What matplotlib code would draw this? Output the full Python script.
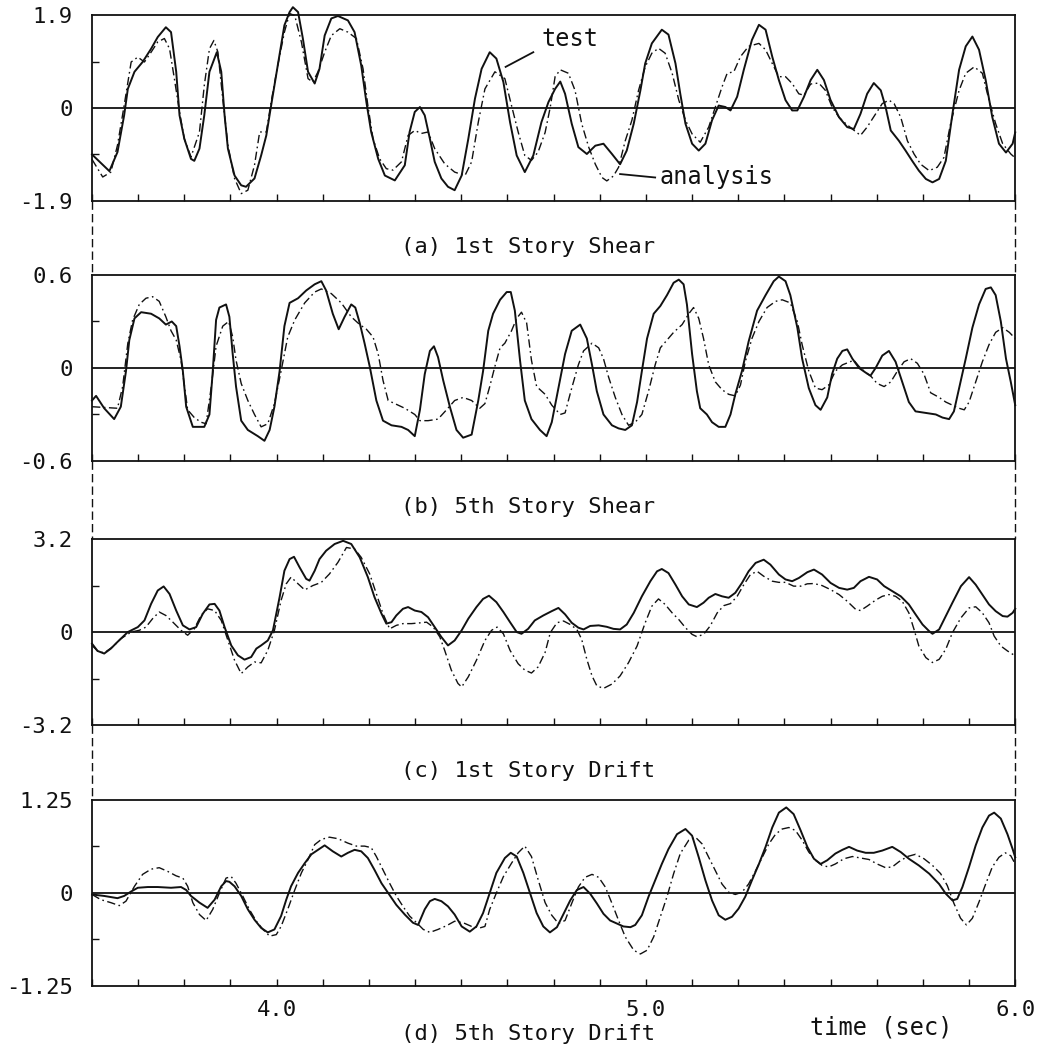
import matplotlib
matplotlib.use("Agg")
import matplotlib.pyplot as plt
from matplotlib.lines import Line2D
from matplotlib.ticker import FixedLocator, MultipleLocator

plt.rcParams["font.family"] = "DejaVu Sans Mono"

# ── Data (time in sec) ────────────────────────────────────────────────────────
A_TEST = [
    (3.500, -0.95), (3.547, -1.29), (3.569, -0.90), (3.587, -0.15), (3.597, 0.39), (3.615, 0.74),
    (3.637, 0.94), (3.660, 1.21), (3.678, 1.45), (3.700, 1.65), (3.714, 1.55), (3.728, 0.74),
    (3.737, -0.15), (3.750, -0.63), (3.768, -1.04), (3.777, -1.08), (3.791, -0.83), (3.804, -0.15),
    (3.818, 0.74), (3.838, 1.14), (3.850, 0.74), (3.859, -0.15), (3.868, -0.83), (3.886, -1.38),
    (3.904, -1.58), (3.917, -1.61), (3.940, -1.44), (3.958, -0.97), (3.972, -0.56), (3.985, 0.05),
    (4.003, 0.87), (4.021, 1.69), (4.035, 1.96), (4.044, 2.06), (4.058, 1.96), (4.071, 1.42),
    (4.085, 0.74), (4.103, 0.50), (4.116, 0.80), (4.130, 1.48), (4.148, 1.83), (4.166, 1.88),
    (4.193, 1.79), (4.211, 1.55), (4.229, 0.87), (4.243, 0.12), (4.256, -0.49), (4.275, -1.04),
    (4.293, -1.38), (4.320, -1.48), (4.347, -1.17), (4.360, -0.49), (4.374, -0.08), (4.388, 0.02),
    (4.401, -0.15), (4.415, -0.63), (4.428, -1.10), (4.446, -1.44), (4.464, -1.61), (4.482, -1.68),
    (4.501, -1.38), (4.519, -0.63), (4.537, 0.19), (4.555, 0.80), (4.577, 1.14), (4.595, 1.01),
    (4.614, 0.53), (4.632, -0.29), (4.650, -0.97), (4.672, -1.31), (4.695, -0.97), (4.717, -0.29),
    (4.736, 0.12), (4.754, 0.39), (4.768, 0.54), (4.781, 0.29), (4.799, -0.32), (4.817, -0.80),
    (4.840, -0.94), (4.863, -0.77), (4.885, -0.73), (4.908, -0.94), (4.930, -1.15), (4.948, -0.87),
    (4.967, -0.32), (4.985, 0.36), (4.998, 0.91), (5.016, 1.32), (5.043, 1.60), (5.061, 1.50),
    (5.080, 0.91), (5.093, 0.29), (5.107, -0.32), (5.125, -0.73), (5.143, -0.87), (5.161, -0.73),
    (5.179, -0.25), (5.197, 0.05), (5.215, 0.02), (5.229, -0.05), (5.247, 0.23), (5.265, 0.78),
    (5.287, 1.39), (5.306, 1.70), (5.324, 1.60), (5.342, 1.05), (5.360, 0.57), (5.378, 0.16),
    (5.396, -0.05), (5.410, -0.05), (5.428, 0.23), (5.446, 0.57), (5.464, 0.78), (5.482, 0.57),
    (5.500, 0.16), (5.523, -0.19), (5.545, -0.39), (5.563, -0.43), (5.581, -0.12), (5.599, 0.29),
    (5.617, 0.51), (5.636, 0.36), (5.649, 0.02), (5.663, -0.46), (5.685, -0.67), (5.703, -0.87),
    (5.721, -1.08), (5.739, -1.28), (5.758, -1.45), (5.776, -1.52), (5.794, -1.45), (5.812, -1.08),
    (5.830, -0.12), (5.848, 0.78), (5.866, 1.26), (5.884, 1.46), (5.902, 1.19), (5.920, 0.57),
    (5.938, -0.19), (5.956, -0.73), (5.975, -0.91), (5.993, -0.73), (6.000, -0.50),
]
A_ANALYSIS = [
    (3.500, -1.05), (3.529, -1.41), (3.551, -1.31), (3.569, -0.76), (3.587, 0.05), (3.606, 0.94),
    (3.624, 1.04), (3.642, 0.94), (3.660, 1.14), (3.678, 1.35), (3.696, 1.42), (3.710, 1.21),
    (3.723, 0.60), (3.737, -0.08), (3.750, -0.63), (3.768, -1.00), (3.791, -0.49), (3.804, 0.46),
    (3.818, 1.21), (3.830, 1.38), (3.841, 1.14), (3.854, 0.19), (3.868, -0.76), (3.886, -1.44),
    (3.904, -1.75), (3.922, -1.68), (3.940, -1.17), (3.954, -0.49), (3.972, -0.49), (3.985, 0.12),
    (4.003, 0.87), (4.021, 1.55), (4.035, 1.93), (4.049, 1.89), (4.067, 1.35), (4.085, 0.60),
    (4.098, 0.53), (4.112, 0.74), (4.130, 1.14), (4.148, 1.48), (4.171, 1.62), (4.193, 1.55),
    (4.216, 1.42), (4.234, 0.80), (4.247, 0.05), (4.261, -0.63), (4.279, -1.04), (4.297, -1.24),
    (4.315, -1.27), (4.338, -1.10), (4.356, -0.56), (4.374, -0.46), (4.392, -0.52), (4.410, -0.49),
    (4.428, -0.83), (4.455, -1.14), (4.482, -1.31), (4.510, -1.38), (4.528, -1.10), (4.546, -0.29),
    (4.564, 0.39), (4.591, 0.74), (4.618, 0.60), (4.636, 0.05), (4.654, -0.49), (4.672, -0.97),
    (4.690, -1.07), (4.708, -0.90), (4.727, -0.50), (4.741, 0.02), (4.754, 0.64), (4.768, 0.78),
    (4.790, 0.71), (4.808, 0.36), (4.826, -0.32), (4.845, -0.80), (4.863, -1.15), (4.881, -1.42),
    (4.894, -1.49), (4.912, -1.39), (4.926, -1.21), (4.944, -0.67), (4.962, -0.25), (4.980, 0.36),
    (4.998, 0.84), (5.016, 1.12), (5.034, 1.22), (5.052, 1.12), (5.071, 0.71), (5.089, 0.16),
    (5.107, -0.25), (5.125, -0.53), (5.147, -0.70), (5.170, -0.39), (5.188, 0.02), (5.206, 0.43),
    (5.220, 0.71), (5.238, 0.74), (5.256, 1.05), (5.278, 1.26), (5.306, 1.32), (5.324, 1.19),
    (5.342, 0.91), (5.360, 0.64), (5.378, 0.64), (5.396, 0.50), (5.414, 0.29), (5.428, 0.26),
    (5.446, 0.49), (5.468, 0.51), (5.486, 0.36), (5.504, 0.02), (5.523, -0.19), (5.541, -0.32),
    (5.559, -0.43), (5.581, -0.56), (5.599, -0.39), (5.622, -0.12), (5.640, 0.09), (5.658, 0.16),
    (5.672, 0.09), (5.690, -0.19), (5.708, -0.67), (5.726, -0.94), (5.744, -1.15), (5.767, -1.28),
    (5.789, -1.21), (5.807, -1.01), (5.825, -0.32), (5.848, 0.36), (5.866, 0.71), (5.889, 0.84),
    (5.911, 0.71), (5.929, 0.16), (5.947, -0.32), (5.966, -0.73), (5.988, -0.94), (6.000, -1.02),
]

B_TEST = [
    (3.500, -0.21), (3.511, -0.18), (3.533, -0.26), (3.560, -0.33), (3.578, -0.25), (3.592, -0.02),
    (3.601, 0.18), (3.615, 0.32), (3.633, 0.36), (3.660, 0.35), (3.682, 0.32), (3.700, 0.28),
    (3.716, 0.30), (3.728, 0.27), (3.737, 0.14), (3.746, -0.02), (3.755, -0.25), (3.773, -0.38),
    (3.804, -0.38), (3.818, -0.30), (3.827, -0.02), (3.836, 0.31), (3.845, 0.39), (3.863, 0.41),
    (3.872, 0.33), (3.881, 0.09), (3.890, -0.12), (3.904, -0.34), (3.922, -0.40), (3.949, -0.44),
    (3.967, -0.47), (3.981, -0.40), (3.994, -0.25), (4.008, -0.02), (4.021, 0.27), (4.035, 0.42),
    (4.058, 0.45), (4.080, 0.50), (4.103, 0.54), (4.121, 0.56), (4.134, 0.50), (4.152, 0.35),
    (4.168, 0.25), (4.184, 0.33), (4.202, 0.41), (4.213, 0.39), (4.225, 0.29), (4.238, 0.16),
    (4.252, 0.01), (4.270, -0.21), (4.288, -0.34), (4.311, -0.37), (4.338, -0.38), (4.356, -0.40),
    (4.374, -0.44), (4.388, -0.27), (4.401, -0.04), (4.415, 0.11), (4.426, 0.14), (4.437, 0.07),
    (4.451, -0.08), (4.469, -0.25), (4.487, -0.40), (4.505, -0.45), (4.528, -0.43), (4.546, -0.21),
    (4.559, -0.02), (4.573, 0.24), (4.586, 0.35), (4.605, 0.44), (4.623, 0.49), (4.634, 0.49),
    (4.645, 0.37), (4.659, 0.05), (4.672, -0.21), (4.690, -0.33), (4.713, -0.40), (4.731, -0.44),
    (4.745, -0.35), (4.763, -0.13), (4.781, 0.09), (4.799, 0.24), (4.822, 0.28), (4.840, 0.19),
    (4.854, 0.02), (4.867, -0.15), (4.885, -0.30), (4.908, -0.37), (4.926, -0.39), (4.944, -0.40),
    (4.962, -0.37), (4.976, -0.22), (4.989, -0.02), (5.003, 0.19), (5.021, 0.35), (5.039, 0.40),
    (5.057, 0.47), (5.075, 0.55), (5.089, 0.57), (5.102, 0.54), (5.111, 0.41), (5.125, 0.09),
    (5.138, -0.15), (5.147, -0.26), (5.165, -0.30), (5.179, -0.35), (5.197, -0.38), (5.215, -0.38),
    (5.229, -0.30), (5.242, -0.17), (5.260, -0.02), (5.278, 0.17), (5.301, 0.37), (5.324, 0.47),
    (5.346, 0.56), (5.360, 0.59), (5.378, 0.56), (5.391, 0.47), (5.410, 0.26), (5.423, 0.06),
    (5.441, -0.13), (5.459, -0.24), (5.473, -0.27), (5.491, -0.19), (5.504, -0.04), (5.518, 0.06),
    (5.532, 0.11), (5.545, 0.12), (5.559, 0.06), (5.577, 0.00), (5.595, -0.03), (5.608, -0.05),
    (5.622, 0.00), (5.640, 0.08), (5.658, 0.11), (5.676, 0.04), (5.694, -0.09), (5.712, -0.22),
    (5.730, -0.28), (5.758, -0.29), (5.785, -0.30), (5.803, -0.32), (5.821, -0.33), (5.834, -0.28),
    (5.848, -0.13), (5.866, 0.06), (5.884, 0.26), (5.902, 0.41), (5.920, 0.51), (5.934, 0.52),
    (5.947, 0.47), (5.961, 0.30), (5.975, 0.06), (5.988, -0.09), (6.000, -0.24),
]
B_ANALYSIS = [
    (3.500, -0.25), (3.569, -0.26), (3.583, -0.12), (3.597, 0.16), (3.610, 0.31), (3.628, 0.41),
    (3.646, 0.45), (3.664, 0.46), (3.682, 0.43), (3.700, 0.33), (3.714, 0.24), (3.728, 0.18),
    (3.741, 0.05), (3.759, -0.27), (3.777, -0.32), (3.795, -0.35), (3.809, -0.36), (3.823, -0.12),
    (3.836, 0.14), (3.854, 0.27), (3.870, 0.30), (3.881, 0.20), (3.890, 0.05), (3.904, -0.10),
    (3.922, -0.21), (3.940, -0.30), (3.958, -0.38), (3.976, -0.36), (3.994, -0.23), (4.012, -0.02),
    (4.030, 0.20), (4.049, 0.31), (4.076, 0.42), (4.103, 0.49), (4.121, 0.51), (4.148, 0.48),
    (4.175, 0.42), (4.202, 0.33), (4.225, 0.28), (4.243, 0.25), (4.261, 0.20), (4.275, 0.09),
    (4.288, -0.08), (4.302, -0.21), (4.320, -0.23), (4.347, -0.26), (4.374, -0.30), (4.388, -0.34),
    (4.410, -0.34), (4.437, -0.33), (4.460, -0.27), (4.482, -0.21), (4.505, -0.19), (4.528, -0.21),
    (4.550, -0.26), (4.564, -0.23), (4.577, -0.12), (4.591, 0.01), (4.605, 0.13), (4.618, 0.16),
    (4.636, 0.24), (4.650, 0.32), (4.663, 0.36), (4.677, 0.29), (4.690, 0.05), (4.704, -0.12),
    (4.727, -0.17), (4.745, -0.24), (4.768, -0.30), (4.781, -0.29), (4.799, -0.13), (4.817, 0.02),
    (4.831, 0.11), (4.854, 0.16), (4.872, 0.13), (4.885, 0.06), (4.899, -0.06), (4.917, -0.19),
    (4.935, -0.30), (4.953, -0.37), (4.971, -0.35), (4.989, -0.30), (5.007, -0.15), (5.025, 0.02),
    (5.039, 0.13), (5.057, 0.18), (5.075, 0.23), (5.098, 0.28), (5.116, 0.35), (5.129, 0.39),
    (5.143, 0.32), (5.156, 0.19), (5.170, 0.02), (5.188, -0.09), (5.206, -0.14), (5.224, -0.17),
    (5.242, -0.18), (5.256, -0.11), (5.269, 0.04), (5.287, 0.19), (5.306, 0.30), (5.328, 0.39),
    (5.351, 0.43), (5.369, 0.44), (5.391, 0.42), (5.410, 0.30), (5.423, 0.15), (5.441, -0.02),
    (5.459, -0.13), (5.477, -0.14), (5.495, -0.11), (5.513, -0.02), (5.532, 0.02), (5.563, 0.05),
    (5.577, 0.01), (5.595, -0.03), (5.608, -0.05), (5.626, -0.10), (5.645, -0.12), (5.663, -0.09),
    (5.681, -0.02), (5.699, 0.04), (5.717, 0.06), (5.735, 0.03), (5.753, -0.04), (5.771, -0.16),
    (5.794, -0.19), (5.812, -0.22), (5.830, -0.24), (5.848, -0.26), (5.862, -0.27), (5.875, -0.22),
    (5.893, -0.09), (5.911, 0.04), (5.929, 0.15), (5.947, 0.23), (5.966, 0.26), (5.984, 0.23),
    (6.000, 0.19),
]

C_TEST = [
    (3.500, -0.40), (3.515, -0.65), (3.533, -0.74), (3.551, -0.57), (3.569, -0.34), (3.597, 0.00),
    (3.624, 0.17), (3.642, 0.40), (3.660, 0.97), (3.678, 1.43), (3.694, 1.57), (3.710, 1.31),
    (3.728, 0.74), (3.746, 0.23), (3.764, 0.09), (3.782, 0.17), (3.800, 0.63), (3.818, 0.95),
    (3.832, 0.97), (3.845, 0.74), (3.859, 0.17), (3.877, -0.46), (3.895, -0.80), (3.913, -0.95),
    (3.931, -0.86), (3.945, -0.57), (3.958, -0.46), (3.976, -0.29), (3.990, 0.06), (4.008, 1.20),
    (4.021, 2.11), (4.035, 2.51), (4.047, 2.59), (4.062, 2.23), (4.080, 1.83), (4.089, 1.77),
    (4.103, 2.11), (4.116, 2.51), (4.134, 2.80), (4.157, 3.03), (4.180, 3.14), (4.202, 3.03),
    (4.225, 2.57), (4.247, 1.89), (4.265, 1.20), (4.284, 0.63), (4.297, 0.29), (4.311, 0.34),
    (4.324, 0.57), (4.342, 0.80), (4.356, 0.86), (4.374, 0.74), (4.392, 0.69), (4.410, 0.51),
    (4.428, 0.17), (4.446, -0.17), (4.464, -0.46), (4.482, -0.29), (4.501, 0.06), (4.519, 0.46),
    (4.541, 0.86), (4.559, 1.14), (4.575, 1.25), (4.595, 1.03), (4.614, 0.69), (4.632, 0.34),
    (4.650, 0.00), (4.663, -0.06), (4.681, 0.11), (4.699, 0.40), (4.722, 0.57), (4.745, 0.72),
    (4.763, 0.83), (4.781, 0.61), (4.799, 0.32), (4.817, 0.15), (4.831, 0.09), (4.849, 0.21),
    (4.872, 0.23), (4.894, 0.18), (4.912, 0.11), (4.930, 0.09), (4.948, 0.26), (4.967, 0.66),
    (4.989, 1.23), (5.012, 1.75), (5.030, 2.09), (5.043, 2.17), (5.061, 2.03), (5.080, 1.63),
    (5.098, 1.23), (5.116, 0.95), (5.138, 0.86), (5.156, 1.01), (5.170, 1.18), (5.188, 1.31),
    (5.206, 1.23), (5.224, 1.18), (5.242, 1.35), (5.260, 1.69), (5.278, 2.09), (5.297, 2.38),
    (5.319, 2.49), (5.337, 2.32), (5.360, 1.98), (5.378, 1.81), (5.396, 1.75), (5.414, 1.86),
    (5.437, 2.06), (5.455, 2.15), (5.477, 1.98), (5.500, 1.69), (5.523, 1.52), (5.545, 1.46),
    (5.563, 1.52), (5.581, 1.75), (5.604, 1.90), (5.626, 1.81), (5.645, 1.58), (5.667, 1.41),
    (5.690, 1.23), (5.712, 0.95), (5.730, 0.61), (5.749, 0.26), (5.767, 0.03), (5.776, -0.06),
    (5.794, 0.09), (5.812, 0.55), (5.830, 1.01), (5.853, 1.58), (5.875, 1.89), (5.893, 1.63),
    (5.911, 1.29), (5.929, 0.95), (5.947, 0.72), (5.966, 0.55), (5.979, 0.53), (5.993, 0.66),
    (6.000, 0.80),
]
C_ANALYSIS = [
    (3.500, -0.46), (3.515, -0.65), (3.533, -0.72), (3.556, -0.51), (3.578, -0.23), (3.606, 0.00),
    (3.628, 0.06), (3.646, 0.17), (3.664, 0.46), (3.682, 0.69), (3.700, 0.57), (3.719, 0.34),
    (3.741, 0.06), (3.759, -0.11), (3.777, 0.11), (3.795, 0.57), (3.813, 0.80), (3.832, 0.74),
    (3.850, 0.40), (3.868, -0.29), (3.886, -0.97), (3.904, -1.43), (3.922, -1.20), (3.940, -1.03),
    (3.958, -1.06), (3.976, -0.63), (3.994, 0.06), (4.012, 1.09), (4.026, 1.66), (4.039, 1.89),
    (4.058, 1.66), (4.076, 1.45), (4.098, 1.60), (4.121, 1.71), (4.143, 2.00), (4.166, 2.40),
    (4.189, 2.91), (4.211, 2.86), (4.229, 2.57), (4.252, 2.00), (4.270, 1.31), (4.288, 0.63),
    (4.306, 0.11), (4.324, 0.23), (4.342, 0.29), (4.365, 0.29), (4.383, 0.31), (4.406, 0.34),
    (4.424, 0.17), (4.442, -0.17), (4.455, -0.63), (4.473, -1.31), (4.491, -1.77), (4.501, -1.89),
    (4.519, -1.54), (4.541, -0.97), (4.564, -0.29), (4.582, 0.06), (4.597, 0.17), (4.614, -0.06),
    (4.632, -0.63), (4.654, -1.09), (4.672, -1.31), (4.690, -1.41), (4.708, -1.20), (4.727, -0.70),
    (4.741, -0.02), (4.759, 0.32), (4.777, 0.38), (4.795, 0.26), (4.813, 0.09), (4.826, -0.25),
    (4.840, -0.94), (4.854, -1.51), (4.867, -1.85), (4.885, -1.94), (4.908, -1.79), (4.930, -1.51),
    (4.953, -1.05), (4.976, -0.48), (4.998, 0.32), (5.016, 0.89), (5.034, 1.14), (5.052, 0.95),
    (5.071, 0.66), (5.089, 0.43), (5.107, 0.15), (5.125, -0.08), (5.138, -0.16), (5.156, -0.08),
    (5.174, 0.21), (5.193, 0.66), (5.211, 0.91), (5.229, 0.98), (5.247, 1.23), (5.265, 1.63),
    (5.283, 1.98), (5.301, 2.09), (5.319, 1.92), (5.342, 1.75), (5.360, 1.71), (5.378, 1.71),
    (5.400, 1.58), (5.419, 1.58), (5.437, 1.66), (5.455, 1.67), (5.477, 1.60), (5.500, 1.46),
    (5.523, 1.29), (5.545, 1.06), (5.568, 0.78), (5.581, 0.74), (5.599, 0.89), (5.622, 1.10),
    (5.640, 1.23), (5.658, 1.29), (5.676, 1.23), (5.694, 1.06), (5.712, 0.66), (5.726, 0.09),
    (5.739, -0.48), (5.758, -0.88), (5.776, -1.05), (5.794, -0.94), (5.812, -0.59), (5.830, -0.02),
    (5.853, 0.49), (5.875, 0.83), (5.893, 0.87), (5.911, 0.66), (5.929, 0.32), (5.943, -0.14),
    (5.961, -0.48), (5.979, -0.65), (6.000, -0.82),
]

D_TEST = [
    (3.500, -0.02), (3.533, -0.04), (3.569, -0.07), (3.587, -0.04), (3.606, 0.02), (3.624, 0.07),
    (3.651, 0.08), (3.678, 0.08), (3.714, 0.07), (3.741, 0.08), (3.755, 0.04), (3.768, -0.04),
    (3.791, -0.13), (3.813, -0.20), (3.832, -0.09), (3.850, 0.09), (3.863, 0.16), (3.872, 0.15),
    (3.886, 0.09), (3.904, -0.04), (3.922, -0.22), (3.940, -0.36), (3.958, -0.47), (3.976, -0.53),
    (3.994, -0.49), (4.012, -0.31), (4.026, -0.09), (4.039, 0.09), (4.058, 0.27), (4.076, 0.40),
    (4.094, 0.52), (4.112, 0.58), (4.130, 0.64), (4.152, 0.56), (4.175, 0.49), (4.193, 0.54),
    (4.211, 0.58), (4.229, 0.56), (4.247, 0.47), (4.265, 0.31), (4.284, 0.13), (4.302, 0.00),
    (4.324, -0.16), (4.347, -0.29), (4.369, -0.40), (4.383, -0.43), (4.401, -0.22), (4.415, -0.11),
    (4.428, -0.08), (4.446, -0.11), (4.464, -0.18), (4.482, -0.29), (4.501, -0.45), (4.523, -0.52),
    (4.541, -0.45), (4.559, -0.27), (4.577, 0.00), (4.595, 0.27), (4.618, 0.47), (4.634, 0.54),
    (4.650, 0.49), (4.668, 0.27), (4.686, 0.00), (4.704, -0.27), (4.722, -0.45), (4.740, -0.53),
    (4.759, -0.46), (4.777, -0.28), (4.795, -0.10), (4.813, 0.04), (4.831, 0.08), (4.849, -0.01),
    (4.867, -0.14), (4.885, -0.28), (4.903, -0.37), (4.921, -0.41), (4.939, -0.45), (4.958, -0.46),
    (4.971, -0.43), (4.989, -0.30), (5.007, -0.05), (5.025, 0.17), (5.043, 0.39), (5.061, 0.59),
    (5.084, 0.79), (5.107, 0.86), (5.125, 0.77), (5.143, 0.48), (5.161, 0.17), (5.179, -0.10),
    (5.197, -0.30), (5.215, -0.36), (5.233, -0.32), (5.251, -0.21), (5.269, -0.05), (5.287, 0.17),
    (5.306, 0.39), (5.324, 0.62), (5.342, 0.88), (5.360, 1.08), (5.380, 1.15), (5.400, 1.06),
    (5.419, 0.84), (5.437, 0.62), (5.455, 0.46), (5.473, 0.39), (5.491, 0.44), (5.513, 0.53),
    (5.532, 0.58), (5.550, 0.62), (5.572, 0.57), (5.595, 0.54), (5.617, 0.54), (5.640, 0.57),
    (5.667, 0.62), (5.690, 0.55), (5.712, 0.46), (5.739, 0.37), (5.767, 0.26), (5.794, 0.12),
    (5.812, -0.01), (5.830, -0.10), (5.843, -0.08), (5.857, 0.08), (5.875, 0.35), (5.893, 0.64),
    (5.911, 0.88), (5.929, 1.04), (5.943, 1.08), (5.961, 1.00), (5.979, 0.79), (5.993, 0.59),
    (6.000, 0.48),
]
D_ANALYSIS = [
    (3.500, -0.02), (3.524, -0.09), (3.551, -0.13), (3.574, -0.17), (3.592, -0.11), (3.615, 0.09),
    (3.637, 0.25), (3.660, 0.32), (3.682, 0.34), (3.705, 0.29), (3.728, 0.23), (3.746, 0.20),
    (3.759, 0.09), (3.773, -0.13), (3.791, -0.29), (3.809, -0.37), (3.827, -0.22), (3.845, 0.00),
    (3.863, 0.20), (3.877, 0.22), (3.890, 0.13), (3.908, -0.04), (3.926, -0.22), (3.945, -0.38),
    (3.963, -0.49), (3.981, -0.58), (3.999, -0.56), (4.012, -0.45), (4.030, -0.22), (4.049, 0.04),
    (4.067, 0.27), (4.085, 0.45), (4.103, 0.65), (4.121, 0.72), (4.143, 0.75), (4.166, 0.73),
    (4.193, 0.67), (4.216, 0.63), (4.238, 0.63), (4.256, 0.61), (4.270, 0.49), (4.288, 0.31),
    (4.306, 0.13), (4.324, -0.04), (4.342, -0.18), (4.360, -0.31), (4.379, -0.40), (4.397, -0.49),
    (4.415, -0.53), (4.437, -0.49), (4.460, -0.44), (4.482, -0.38), (4.505, -0.40), (4.528, -0.45),
    (4.550, -0.47), (4.564, -0.45), (4.577, -0.22), (4.595, 0.00), (4.614, 0.22), (4.636, 0.40),
    (4.654, 0.54), (4.672, 0.63), (4.690, 0.49), (4.708, 0.18), (4.727, -0.13), (4.745, -0.30),
    (4.763, -0.41), (4.781, -0.37), (4.799, -0.14), (4.817, 0.08), (4.835, 0.21), (4.854, 0.25),
    (4.872, 0.21), (4.890, 0.08), (4.908, -0.14), (4.926, -0.37), (4.944, -0.59), (4.967, -0.77),
    (4.985, -0.82), (5.003, -0.77), (5.021, -0.59), (5.039, -0.32), (5.057, -0.05), (5.075, 0.26),
    (5.093, 0.53), (5.116, 0.71), (5.134, 0.75), (5.152, 0.66), (5.170, 0.48), (5.188, 0.30),
    (5.206, 0.12), (5.224, 0.01), (5.242, -0.02), (5.260, 0.01), (5.278, 0.12), (5.297, 0.30),
    (5.315, 0.48), (5.333, 0.66), (5.351, 0.79), (5.369, 0.86), (5.387, 0.88), (5.405, 0.84),
    (5.423, 0.71), (5.441, 0.55), (5.459, 0.44), (5.477, 0.37), (5.495, 0.35), (5.513, 0.39),
    (5.536, 0.46), (5.559, 0.49), (5.581, 0.47), (5.604, 0.45), (5.626, 0.39), (5.649, 0.34),
    (5.667, 0.35), (5.685, 0.42), (5.708, 0.49), (5.730, 0.52), (5.753, 0.46), (5.776, 0.37),
    (5.798, 0.26), (5.816, 0.10), (5.834, -0.14), (5.852, -0.34), (5.868, -0.43), (5.884, -0.34),
    (5.902, -0.12), (5.920, 0.12), (5.938, 0.35), (5.956, 0.48), (5.973, 0.54), (5.988, 0.50),
    (6.000, 0.39),
]

LIMITS      = [1.9, 0.6, 3.2, 1.25]
Y_LABELS    = [["-1.9", "0", "1.9"], ["-0.6", "0", "0.6"],
               ["-3.2", "0", "3.2"], ["-1.25", "0", "1.25"]]
TITLES      = ["(a) 1st Story Shear", "(b) 5th Story Shear",
               "(c) 1st Story Drift", "(d) 5th Story Drift"]
SERIES      = [(A_TEST, A_ANALYSIS), (B_TEST, B_ANALYSIS),
               (C_TEST, C_ANALYSIS), (D_TEST, D_ANALYSIS)]
X_RANGE     = (3.5, 6.0)
X_LABELED   = [4.0, 5.0, 6.0]
X_MINOR     = 0.125

# ── Layout ───────────────────────────────────────────────────────────────────
INK = "#111111"
LEFT, WIDTH, HEIGHT = 0.0883, 0.886, 0.1771
BOTTOMS = [0.8086, 0.5610, 0.3095, 0.0610]
TITLE_Y = [0.7590, 0.5114, 0.2600, 0.0095]
DASHDOT = (0, (6, 2.5, 1.2, 2.5))

fig = plt.figure(figsize=(10.42, 10.5), dpi=100)
axes = []
for i, (lim, ylabs, title, (test, anal)) in enumerate(zip(LIMITS, Y_LABELS, TITLES, SERIES)):
    ax = fig.add_axes([LEFT, BOTTOMS[i], WIDTH, HEIGHT])
    axes.append(ax)
    ax.set_xlim(*X_RANGE)
    ax.set_ylim(-lim, lim)

    ax.axhline(0, color=INK, lw=1.3, zorder=1)
    ax.plot([p[0] for p in test], [p[1] for p in test], color=INK, lw=1.4,
            solid_joinstyle="round", clip_on=False, zorder=3)
    ax.plot([p[0] for p in anal], [p[1] for p in anal], color=INK, lw=1.0,
            linestyle=DASHDOT, clip_on=False, zorder=2)

    for s in ax.spines.values():
        s.set_linewidth(1.3)
        s.set_color(INK)

    ax.xaxis.set_major_locator(FixedLocator(X_LABELED))
    ax.xaxis.set_minor_locator(MultipleLocator(X_MINOR))
    ax.tick_params(axis="x", which="both", direction="in", length=5, width=1.0,
                   colors=INK, labelsize=16, pad=10)
    if i < 3:
        ax.tick_params(axis="x", labelbottom=False)
    else:
        ax.set_xticklabels([f"{v:.1f}" for v in X_LABELED])

    ax.set_yticks([-lim, 0, lim])
    ax.set_yticklabels(ylabs)
    ax.yaxis.set_minor_locator(FixedLocator([-lim / 2, lim / 2]))
    ax.tick_params(axis="y", which="major", length=0, labelsize=16, pad=14, colors=INK)
    ax.tick_params(axis="y", which="minor", direction="in", length=5, width=1.0, colors=INK)

    fig.text(0.507, TITLE_Y[i], title, ha="center", va="baseline", fontsize=16, color=INK)

# dashed connectors between stacked panels
for upper, lower in zip(axes[:-1], axes[1:]):
    pu, pl = upper.get_position(), lower.get_position()
    for x in (pu.x0, pu.x1):
        fig.add_artist(Line2D([x, x], [pu.y0, pl.y1], transform=fig.transFigure,
                              color=INK, lw=1.0, linestyle=(0, (6, 3))))

# leader labels in panel (a)
ax = axes[0]
ax.plot([4.620, 4.695], [0.84, 1.14], color=INK, lw=1.3)
ax.text(4.718, 1.40, "test", fontsize=17, va="center", ha="left", color=INK)
ax.plot([4.930, 5.025], [-1.35, -1.42], color=INK, lw=1.3)
ax.text(5.036, -1.42, "analysis", fontsize=17, va="center", ha="left", color=INK)

fig.text(0.8455, 0.0152, "time (sec)", ha="center", va="baseline", fontsize=17, color=INK)

fig.savefig("out.png", dpi=100)
